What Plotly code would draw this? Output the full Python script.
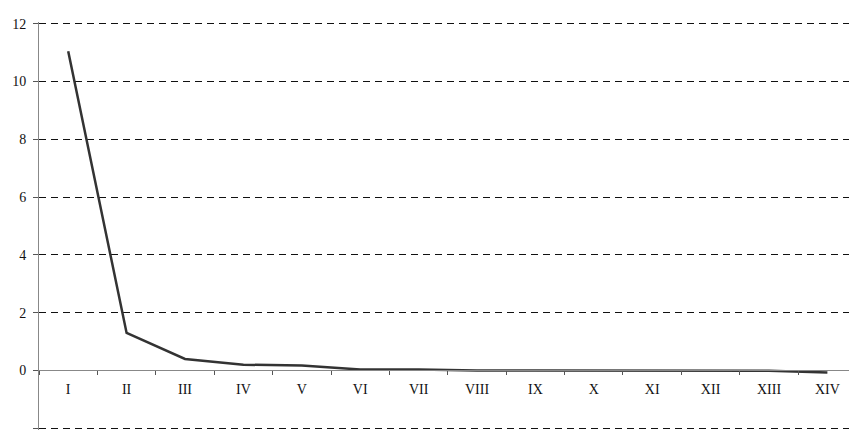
import plotly.graph_objects as go

categories = ["I", "II", "III", "IV", "V", "VI", "VII", "VIII", "IX", "X", "XI", "XII", "XIII", "XIV"]
values = [11.05, 1.3, 0.4, 0.2, 0.17, 0.03, 0.03, 0.0, 0.0, 0.0, 0.0, 0.0, -0.01, -0.07]
y_ticks = [-2, 0, 2, 4, 6, 8, 10, 12]

font = dict(family="Liberation Serif, Times New Roman, serif", size=14, color="#111111")

fig = go.Figure(go.Scatter(
    x=categories,
    y=values,
    mode="lines",
    line=dict(color="#333333", width=2.5),
))

fig.update_layout(
    width=849,
    height=430,
    margin=dict(l=39, r=0, t=22, b=0),
    paper_bgcolor="white",
    plot_bgcolor="white",
    showlegend=False,
    font=font,
)

# small padding on the y range so the outer grid lines at 12 and -2 are kept
ylo, yhi = -2.06, 12.06

fig.update_xaxes(
    type="category",
    range=[-0.5, 13.37],
    anchor="free",
    position=(0 - ylo) / (yhi - ylo),
    automargin=False,
    showline=True,
    linecolor="#888888",
    linewidth=1,
    showgrid=False,
    ticks="outside",
    tickson="boundaries",
    ticklen=4,
    tickcolor="#555555",
    ticklabelstandoff=6,
    tickfont=dict(size=14),
)

fig.update_yaxes(
    range=[ylo, yhi],
    tickvals=y_ticks,
    automargin=False,
    showline=True,
    linecolor="#888888",
    linewidth=1,
    showgrid=True,
    gridcolor="#111111",
    gridwidth=1,
    griddash="7px,5px",
    zeroline=True,
    zerolinecolor="#888888",
    zerolinewidth=1,
    ticks="outside",
    ticklen=5,
    tickcolor="#555555",
    ticklabelstandoff=4,
    tickfont=dict(size=14),
)

# page body has a default margin, drop it so the chart starts at the corner
fig.write_html(
    "out.html",
    config={"displayModeBar": False},
    post_script="document.body.style.margin='0';",
)
